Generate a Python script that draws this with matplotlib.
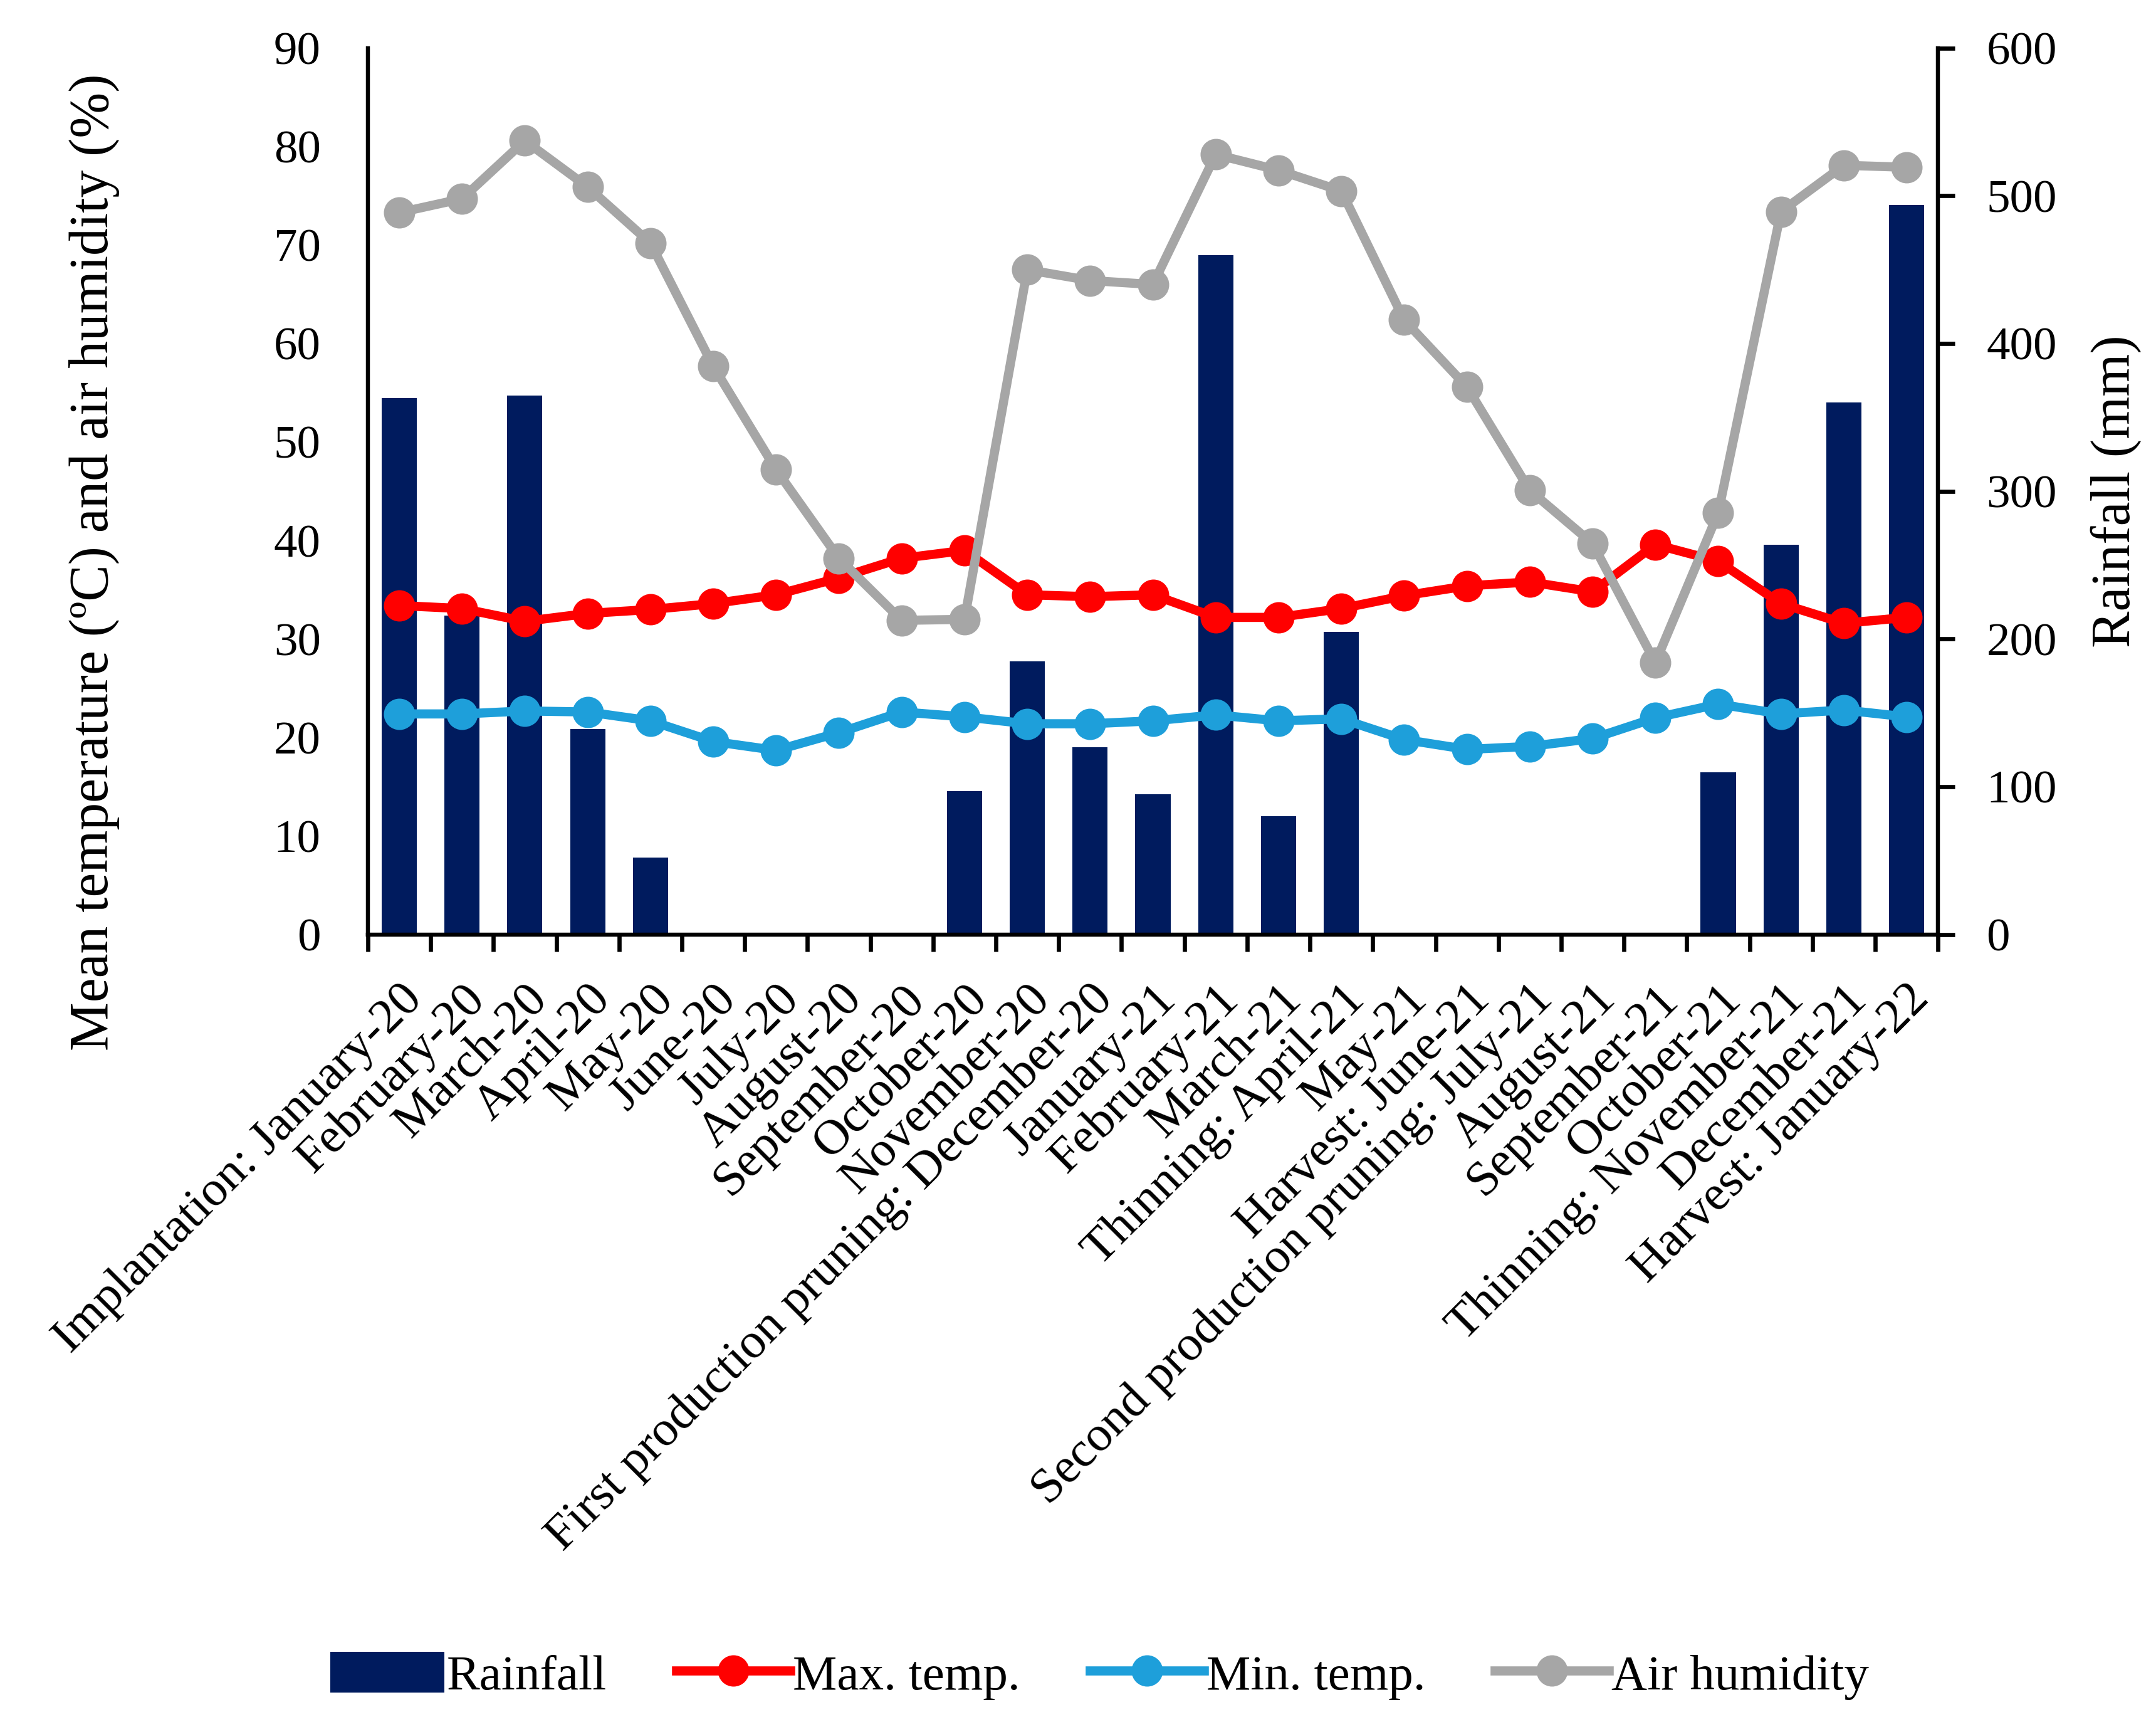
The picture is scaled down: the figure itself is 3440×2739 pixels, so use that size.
import matplotlib
matplotlib.use('Agg')
import matplotlib.pyplot as plt
import numpy as np

months = ['Implantation: January-20', 'February-20', 'March-20', 'April-20', 'May-20',
          'June-20', 'July-20', 'August-20', 'September-20', 'October-20', 'November-20',
          'First production pruning: December-20', 'January-21', 'February-21', 'March-21',
          'Thinning: April-21', 'May-21', 'Harvest: June-21', 'Second production pruning: July-21',
          'August-21', 'September-21', 'October-21', 'Thinning: November-21', 'December-21',
          'Harvest: January-22']

rainfall = [363, 216, 365, 139, 52, 0, 0, 0, 0, 97, 185, 127, 95, 460, 80, 205,
            0, 0, 0, 0, 0, 110, 264, 360, 494]
max_temp = [33.4, 33.1, 31.8, 32.6, 33.0, 33.6, 34.5, 36.2, 38.2, 39.0, 34.5, 34.3, 34.5,
            32.2, 32.2, 33.1, 34.4, 35.4, 35.8, 34.8, 39.6, 37.9, 33.6, 31.6, 32.2]
min_temp = [22.4, 22.4, 22.7, 22.6, 21.7, 19.6, 18.7, 20.5, 22.6, 22.1, 21.4, 21.4, 21.7,
            22.3, 21.7, 21.9, 19.8, 18.8, 19.1, 19.9, 22.0, 23.4, 22.4, 22.8, 22.1]
humidity = [73.3, 74.7, 80.6, 75.9, 70.2, 57.7, 47.2, 38.2, 31.9, 32.0, 67.5, 66.4, 66.0,
            79.2, 77.6, 75.5, 62.4, 55.6, 45.1, 39.7, 27.6, 42.8, 73.4, 78.1, 77.9]

plt.rcParams['font.family'] = ['Liberation Serif', 'DejaVu Serif']
plt.rcParams['font.size'] = 19

fig = plt.figure(figsize=(3440 / 300, 2739 / 300), dpi=300)
ax = fig.add_axes([0.1706, 0.4557, 0.7283, 0.5163])
ax2 = ax.twinx()

x = np.arange(len(months))
ax2.bar(x, rainfall, width=0.56, color='#001B5E', label='Rainfall')
ax.plot(x, max_temp, color='#FF0000', lw=3.5, marker='o', ms=11, label='Max. temp.')
ax.plot(x, min_temp, color='#1E9FDA', lw=3.5, marker='o', ms=11, label='Min. temp.')
ax.plot(x, humidity, color='#A6A6A6', lw=3.5, marker='o', ms=11, label='Air humidity')

# lines above the bars
ax.set_zorder(ax2.get_zorder() + 1)
ax.patch.set_visible(False)

ax.set_xlim(-0.5, len(months) - 0.5)
ax.set_ylim(0, 90)
ax.set_yticks(range(0, 91, 10))
ax2.set_ylim(0, 600)
ax2.set_yticks(range(0, 601, 100))

ax.set_xticks(x)
ax.set_xticklabels(months, rotation=45, ha='right', rotation_mode='anchor')
ax.set_xticks(np.arange(-0.5, len(months), 1), minor=True)
ax.tick_params(axis='x', which='major', length=0, pad=16)
ax.tick_params(axis='x', which='minor', length=6.5, width=1.6, direction='out')
ax.tick_params(axis='y', length=0, pad=18, labelsize=18)
ax2.tick_params(axis='y', length=6.5, width=1.6, direction='out', pad=12, labelsize=18)

for a in (ax, ax2):
    a.spines['top'].set_visible(False)
    for s in ('left', 'right', 'bottom'):
        a.spines[s].set_linewidth(1.5)

ax.set_ylabel('Mean temperature (ºC) and air humidity (%)', fontsize=21)
ax.yaxis.set_label_coords(-0.158, 0.42)
ax2.set_ylabel('Rainfall (mm)', fontsize=21)
ax2.yaxis.set_label_coords(1.097, 0.5)

h1, l1 = ax2.get_legend_handles_labels()
h2, l2 = ax.get_legend_handles_labels()
fig.legend(h1 + h2, l1 + l2, loc='center', bbox_to_anchor=(0.51, 0.024), ncol=4,
           frameon=False, handlelength=2.3, handleheight=0.9, handletextpad=0.05,
           columnspacing=1.4)

fig.savefig('out.png', dpi=300)
